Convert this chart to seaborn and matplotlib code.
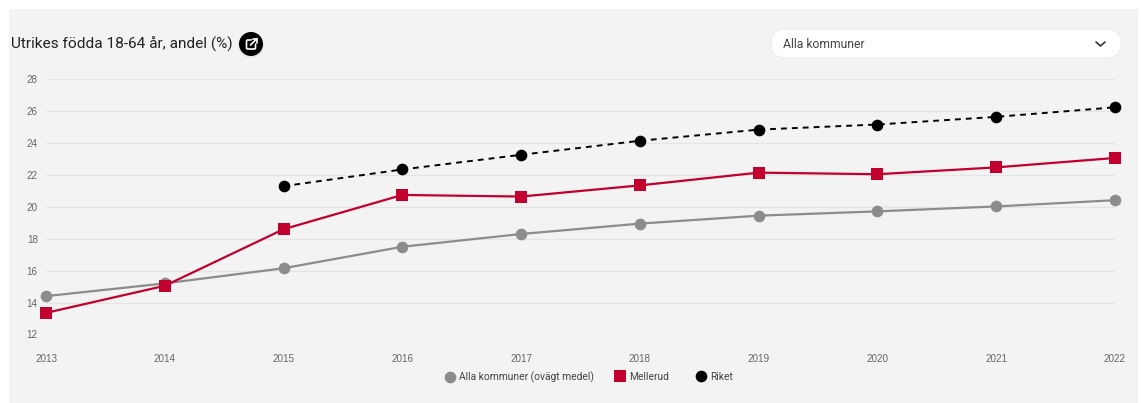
import pandas as pd
import matplotlib
matplotlib.use("Agg")
import matplotlib.pyplot as plt
from matplotlib.lines import Line2D
from matplotlib.patches import Circle, FancyBboxPatch, Rectangle
import seaborn as sns

years = [2013, 2014, 2015, 2016, 2017, 2018, 2019, 2020, 2021, 2022]
alla = [14.4, 15.2, 16.15, 17.5, 18.3, 18.95, 19.45, 19.72, 20.03, 20.42]
mellerud = [13.35, 15.05, 18.6, 20.75, 20.65, 21.35, 22.15, 22.05, 22.48, 23.07]
riket = [None, None, 21.3, 22.35, 23.27, 24.15, 24.85, 25.17, 25.65, 26.25]
y_ticks = [12, 14, 16, 18, 20, 22, 24, 26, 28]

names = ["Alla kommuner (ovägt medel)", "Mellerud", "Riket"]
colors = ["#8c8c8c", "#c10030", "#000000"]
markers = ["o", "s", "o"]

W, H = 1141, 403
BG = "#f3f3f3"

df = pd.DataFrame({"year": years, names[0]: alla, names[1]: mellerud, names[2]: riket})
df = df.melt(id_vars="year", var_name="serie", value_name="andel").dropna()

sns.set_theme(style="white")
plt.rcParams["font.family"] = ["Roboto", "DejaVu Sans"]

fig = plt.figure(figsize=(W / 100, H / 100), dpi=100, facecolor="white")

# overlay in pixel coordinates for panel, dropdown and button
over = fig.add_axes([0, 0, 1, 1], zorder=-1)
over.set_xlim(0, W)
over.set_ylim(H, 0)
over.axis("off")
over.add_patch(Rectangle((9, 9), 1129, H - 9, facecolor=BG, edgecolor="none"))

ax = fig.add_axes([46 / W, 1 - 334.4 / H, (1115 - 46) / W, (334.4 - 79.4) / H])
ax.patch.set_alpha(0)

# grey line first, then red, then the dashed one
sns.lineplot(data=df[df.serie == names[0]], x="year", y="andel", ax=ax, color=colors[0],
             linewidth=1.6, marker="o", markersize=8.4, markeredgewidth=0, clip_on=False, legend=False)
sns.lineplot(data=df[df.serie == names[1]], x="year", y="andel", ax=ax, color=colors[1],
             linewidth=1.6, marker="s", markersize=8.2, markeredgewidth=0, clip_on=False, legend=False)
sns.lineplot(data=df[df.serie == names[2]], x="year", y="andel", ax=ax, color=colors[2],
             linewidth=1.4, linestyle=(0, (3, 2.6)), marker="o", markersize=8.4, markeredgewidth=0,
             clip_on=False, legend=False)

ax.set_xlim(2013, 2022)
ax.set_ylim(12, 28)
ax.set_xticks(years)
ax.set_yticks(y_ticks)
ax.set_xlabel("")
ax.set_ylabel("")
ax.grid(axis="y", color="#e4e4e4", linewidth=1)
ax.set_axisbelow(True)
sns.despine(ax=ax, left=True, bottom=True)
ax.tick_params(axis="both", length=0, labelsize=7.1, labelcolor="#666666")
ax.tick_params(axis="x", pad=14)
ax.tick_params(axis="y", pad=6)
for label in ax.get_xticklabels() + ax.get_yticklabels():
    label.set_family("Liberation Sans")

# legend entries sit unevenly in the original, so one legend per entry
legend_x = [450, 620, 701]
for name, color, marker, size, x in zip(names, colors, markers, [8.4, 8.4, 8.4], legend_x):
    handle = Line2D([], [], linestyle="none", marker=marker, color=color, markersize=size, markeredgewidth=0)
    leg = fig.legend([handle], [name], loc="center left", bbox_to_anchor=((x - 5) / W, 1 - 377 / H),
                     frameon=False, fontsize=7.4, labelcolor="#444444", borderpad=0, borderaxespad=0,
                     handlelength=1, handletextpad=0.35)

over.text(11, 44.5, "Utrikes födda 18-64 år, andel (%)", fontsize=11.1, color="#222222", va="center")

# share button
over.add_patch(Circle((251, 45), 13, facecolor="#dddddd", edgecolor="none", alpha=0.6))
over.add_patch(Circle((251, 44), 12, facecolor="black", edgecolor="none"))
over.add_patch(FancyBboxPatch((246.5, 40), 9, 9, boxstyle="round,pad=0,rounding_size=1.2",
                              facecolor="none", edgecolor="white", linewidth=1.2))
over.plot([251, 257.5], [44.5, 38], color="black", linewidth=3.5, solid_capstyle="butt")
over.plot([250.5, 257], [45, 38.5], color="white", linewidth=1.2)
over.plot([252.5, 257, 257], [38.5, 38.5, 43], color="white", linewidth=1.2)

# dropdown
over.add_patch(FancyBboxPatch((771, 29), 350, 29, boxstyle="round,pad=0,rounding_size=14.5",
                              facecolor="white", edgecolor="#ececec", linewidth=0.8))
over.text(783, 44, "Alla kommuner", fontsize=8.7, color="#444444", va="center")
over.plot([1096, 1100.5, 1105], [42, 46, 42], color="#333333", linewidth=1.2)

fig.savefig("out.png", dpi=100, facecolor="white")
